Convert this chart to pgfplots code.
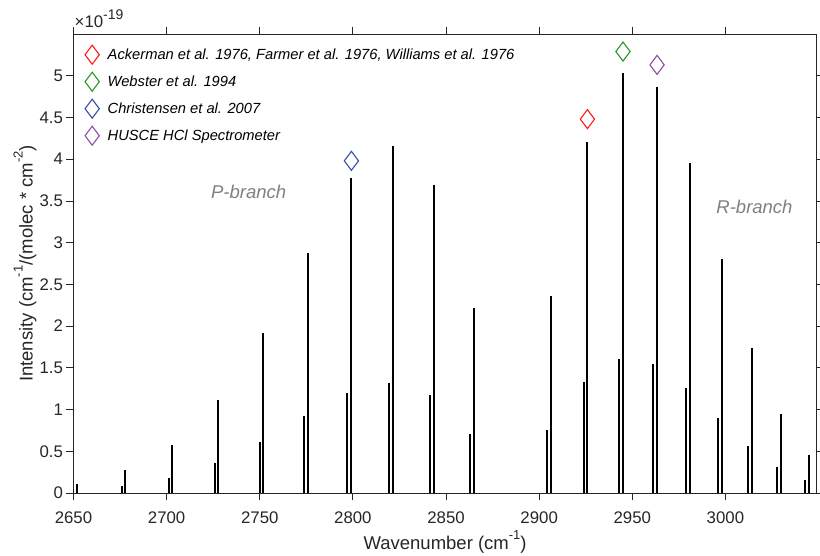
\documentclass[border=0pt]{standalone}
\usepackage{pgfplots}
\pgfplotsset{compat=1.18}
\usepackage{fontspec}
\setmainfont{Liberation Sans}
\definecolor{axgray}{rgb}{0.15,0.15,0.15}
\definecolor{mred}{rgb}{1,0.1,0.1}
\definecolor{mgreen}{rgb}{0.15,0.6,0.15}
\definecolor{mblue}{rgb}{0.22,0.3,0.66}
\definecolor{mpurple}{rgb}{0.56,0.3,0.66}
\newcommand{\mysup}[1]{\raisebox{0.55em}{\fontsize{13}{14}\selectfont #1}}
\begin{document}
\begin{tikzpicture}
\useasboundingbox (-73.5pt,-63pt) rectangle (746.5pt,493pt);
\begin{axis}[
  at={(0,0)}, anchor=south west,
  scale only axis, width=743.2pt, height=459pt,
  xmin=2650, xmax=3049, ymin=0, ymax=5.5,
  xtick={2650,2700,2750,2800,2850,2900,2950,3000},
  ytick={0,0.5,1,1.5,2,2.5,3,3.5,4,4.5,5},
  yticklabels={0,0.5,1,1.5,2,2.5,3,3.5,4,4.5,5},
  xticklabels={2650,2700,2750,2800,2850,2900,2950,3000},
  tick align=outside, major tick length=7pt,
  axis line style={axgray, line width=0.8pt},
  tick style={axgray, line width=0.8pt},
  ticklabel style={font=\fontsize{16.8}{19}\selectfont, text=axgray},
  xticklabel style={yshift=-8pt},
  label style={font=\fontsize{18.5}{21}\selectfont, text=axgray},
  xlabel={Wavenumber (cm\mysup{-1})},
  xlabel style={at={(axis description cs:0.5,0)}, anchor=base, yshift=-57pt},
  ylabel={Intensity (cm\mysup{-1}/(molec * cm\mysup{-2})},
  ylabel style={at={(axis description cs:0,0.5)}, anchor=center, yshift=48.5pt},
  legend style={at={(0.0,1)}, anchor=north west, yshift=-9pt, draw=none, fill=none,
    font=\itshape\fontsize{14.7}{17}\selectfont, row sep=8pt},
  legend cell align=left,
  legend image code/.code={\path[draw=none,fill=none] (0pt,0pt) -- (29pt,0pt); \draw[#1] plot coordinates {(15.5pt,0pt)};},
]
\addplot[only marks, mark=diamond, mark size=9.5pt, mred, line width=1.1pt] coordinates {(2925.9,4.48)};
\addlegendentry{Ackerman et al. 1976, Farmer et al. 1976, Williams et al. 1976}
\addplot[only marks, mark=diamond, mark size=9.5pt, mgreen, line width=1.1pt] coordinates {(2945.0,5.29)};
\addlegendentry{Webster et al. 1994}
\addplot[only marks, mark=diamond, mark size=9.5pt, mblue, line width=1.1pt] coordinates {(2799.2,3.98)};
\addlegendentry{Christensen et al. 2007}
\addplot[only marks, mark=diamond, mark size=9.5pt, mpurple, line width=1.1pt] coordinates {(2963.3,5.13)};
\addlegendentry{HUSCE HCl Spectrometer}
\addplot[ycomb, black, line width=2pt, no marks, forget plot] coordinates {
(2651.9,0.11)(2677.7,0.27)(2703.0,0.58)(2727.8,1.12)(2752.0,1.92)(2775.8,2.88)(2798.9,3.77)(2821.6,4.16)(2843.6,3.69)(2865.1,2.22)
(2906.2,2.36)(2925.9,4.20)(2944.9,5.03)(2963.3,4.86)(2981.0,3.96)(2998.0,2.80)(3014.3,1.74)(3029.9,0.95)(3044.8,0.46)};
\addplot[ycomb, black, line width=2pt, no marks, forget plot] coordinates {
(2650.0,0.03)(2675.8,0.08)(2701.1,0.18)(2725.9,0.36)(2750.0,0.61)(2773.8,0.92)(2796.9,1.20)(2819.6,1.32)(2841.6,1.17)(2863.1,0.71)
(2904.2,0.76)(2923.9,1.33)(2942.9,1.60)(2961.3,1.55)(2979.0,1.26)(2996.0,0.90)(3012.2,0.56)(3027.7,0.31)(3042.6,0.15)};
\node[text=gray, font=\itshape\fontsize{18.5}{21}\selectfont] at (axis cs:2744,3.61) {P-branch};
\node[text=gray, font=\itshape\fontsize{18.5}{21}\selectfont] at (axis cs:3015.6,3.43) {R-branch};
\end{axis}
\node[anchor=south west, inner sep=0pt, text=axgray, font=\fontsize{16.8}{19}\selectfont] at (1pt,465pt) {×10\raisebox{0.5em}{\fontsize{14}{15}\selectfont -19}};
\end{tikzpicture}
\end{document}
